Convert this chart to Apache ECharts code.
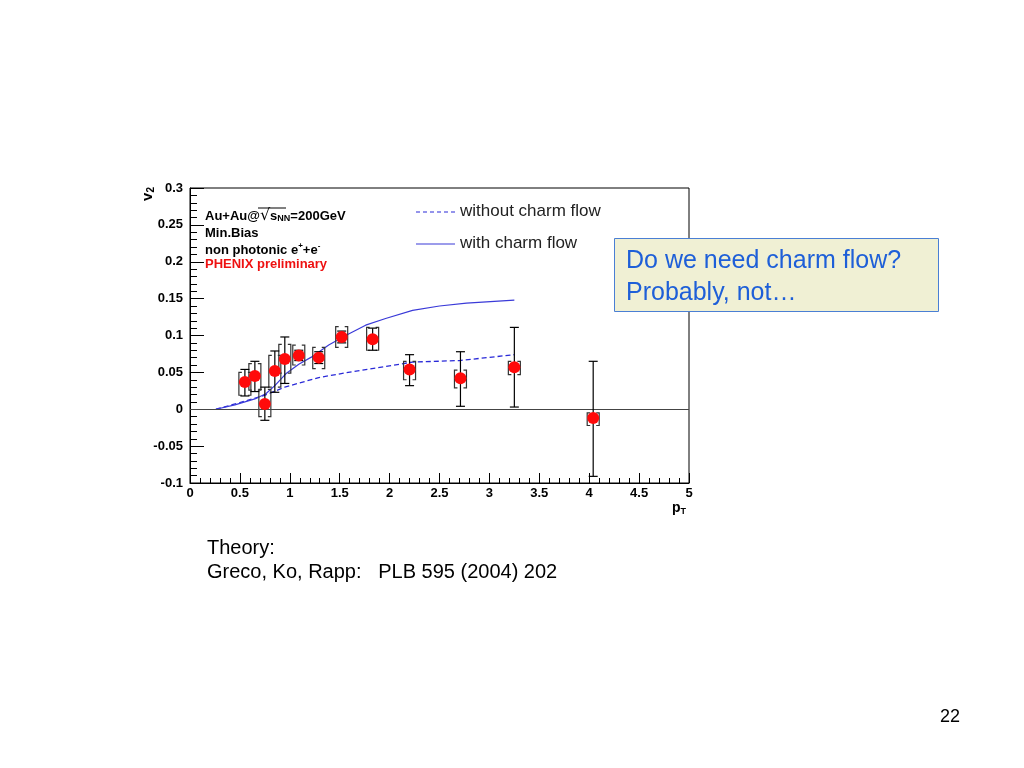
<!DOCTYPE html>
<html>
<head>
<meta charset="utf-8">
<script src="https://cdn.jsdelivr.net/npm/echarts@6/dist/echarts.min.js"></script>
<style>
html,body{margin:0;padding:0;background:#fff;}
#chart{width:1024px;height:768px;}
</style>
</head>
<body>
<div id="chart"></div>
<script>
// ---- data ----
var pT      = [0.55, 0.65, 0.75, 0.85, 0.95, 1.09, 1.29, 1.52, 1.83, 2.20, 2.71, 3.25, 4.04];
var v2      = [0.037, 0.045, 0.007, 0.052, 0.068, 0.073, 0.070, 0.098, 0.095, 0.054, 0.042, 0.057, -0.012];
var statLow = [0.018, 0.024, -0.015, 0.023, 0.035, 0.066, 0.062, 0.090, 0.080, 0.032, 0.004, 0.003, -0.091];
var statHigh= [0.054, 0.065, 0.030, 0.079, 0.098, 0.080, 0.078, 0.106, 0.110, 0.074, 0.078, 0.111, 0.065];
var sysLow  = [0.019, 0.026, -0.010, 0.030, 0.049, 0.060, 0.055, 0.084, 0.080, 0.040, 0.029, 0.047, -0.022];
var sysHigh = [0.050, 0.062, 0.027, 0.073, 0.088, 0.087, 0.084, 0.112, 0.111, 0.065, 0.053, 0.065, -0.005];

var withoutCharmX = [0.26, 0.50, 0.75, 0.95, 1.29, 1.63, 1.96, 2.23, 2.70, 3.25];
var withoutCharmY = [0.000, 0.009, 0.019, 0.030, 0.043, 0.051, 0.058, 0.064, 0.066, 0.074];
var withCharmX = [0.26, 0.45, 0.65, 0.76, 0.85, 0.96, 1.09, 1.22, 1.39, 1.56, 1.76, 1.96, 2.23, 2.50, 2.77, 3.25];
var withCharmY = [0.000, 0.006, 0.014, 0.021, 0.032, 0.048, 0.061, 0.071, 0.087, 0.100, 0.114, 0.123, 0.134, 0.140, 0.144, 0.148];

var xTicks = {min: 0, max: 5, interval: 0.5};
var yTicks = {min: -0.1, max: 0.3, interval: 0.05};

// ---- build ----
function zip(a, b) { return a.map(function (v, i) { return [v, b[i]]; }); }
var points = zip(pT, v2);
var statData = pT.map(function (x, i) { return [x, statLow[i], statHigh[i]]; });
var sysData = pT.map(function (x, i) { return [x, sysLow[i], sysHigh[i]]; });

var chart = echarts.init(document.getElementById('chart'), null, {renderer: 'canvas'});
var axisFont = {fontFamily: 'Liberation Sans, Arial, sans-serif', fontWeight: 'bold', fontSize: 13, color: '#000'};

var option = {
  animation: false,
  backgroundColor: '#ffffff',
  grid: {left: 190, top: 188, width: 499, height: 295, show: true, borderColor: '#000', borderWidth: 1, backgroundColor: 'transparent'},
  xAxis: {
    type: 'value', min: xTicks.min, max: xTicks.max, interval: xTicks.interval,
    axisLine: {onZero: false, lineStyle: {color: '#000', width: 1}},
    axisTick: {inside: true, length: 10, lineStyle: {color: '#000'}},
    minorTick: {show: true, splitNumber: 5, length: 5, lineStyle: {color: '#000'}},
    splitLine: {show: false},
    axisLabel: Object.assign({margin: 4, formatter: function (v) { return String(+v.toFixed(2)); }}, axisFont)
  },
  yAxis: {
    type: 'value', min: yTicks.min, max: yTicks.max, interval: yTicks.interval,
    axisLine: {onZero: false, lineStyle: {color: '#000', width: 1}},
    axisTick: {inside: true, length: 14, lineStyle: {color: '#000'}},
    minorTick: {show: true, splitNumber: 5, length: 7, lineStyle: {color: '#000'}},
    splitLine: {show: false},
    axisLabel: Object.assign({margin: 7, formatter: function (v) { return String(+v.toFixed(2)); }}, axisFont)
  },
  series: [
    {
      type: 'line', data: zip(withoutCharmX, withoutCharmY), showSymbol: false, symbol: 'none',
      lineStyle: {color: '#2a2ad8', width: 1.3, type: [5, 3]}, z: 3,
      markLine: {silent: true, symbol: 'none', label: {show: false},
        lineStyle: {color: '#444', width: 1, type: 'solid'}, data: [{yAxis: 0}]}
    },
    {
      type: 'line', data: zip(withCharmX, withCharmY), showSymbol: false, symbol: 'none',
      lineStyle: {color: '#3a3ad8', width: 1.2}, z: 3
    },
    {
      type: 'custom', data: sysData, z: 4,
      renderItem: function (params, api) {
        var x = api.value(0);
        var lo = api.coord([x, api.value(1)]);
        var hi = api.coord([x, api.value(2)]);
        var hw = 6, s = 3;
        var st = {stroke: '#333', lineWidth: 1.2, fill: null};
        return {type: 'group', children: [
          {type: 'polyline', shape: {points: [[lo[0] - hw + s, hi[1]], [lo[0] - hw, hi[1]], [lo[0] - hw, lo[1]], [lo[0] - hw + s, lo[1]]]}, style: st},
          {type: 'polyline', shape: {points: [[lo[0] + hw - s, hi[1]], [lo[0] + hw, hi[1]], [lo[0] + hw, lo[1]], [lo[0] + hw - s, lo[1]]]}, style: st}
        ]};
      }
    },
    {
      type: 'custom', data: statData, z: 5,
      renderItem: function (params, api) {
        var x = api.value(0);
        var lo = api.coord([x, api.value(1)]);
        var hi = api.coord([x, api.value(2)]);
        var cw = 4.5;
        var st = {stroke: '#000', lineWidth: 1.2};
        return {type: 'group', children: [
          {type: 'line', shape: {x1: lo[0], y1: lo[1], x2: hi[0], y2: hi[1]}, style: st},
          {type: 'line', shape: {x1: lo[0] - cw, y1: lo[1], x2: lo[0] + cw, y2: lo[1]}, style: st},
          {type: 'line', shape: {x1: hi[0] - cw, y1: hi[1], x2: hi[0] + cw, y2: hi[1]}, style: st}
        ]};
      }
    },
    {
      type: 'scatter', data: points, symbol: 'circle', symbolSize: 12, z: 6,
      itemStyle: {color: '#ff0a0a', opacity: 1}
    }
  ],
  graphic: [
    // axis titles
    {type: 'text', left: 140, top: 187, rotation: Math.PI / 2, originX: 0, originY: 0,
      style: {text: '{v|v}{s|2}', rich: {v: {font: 'bold 15px Liberation Sans'}, s: {font: 'bold 10px Liberation Sans', padding: [8, 0, 0, 0]}}, fill: '#000'}},
    {type: 'text', left: 672, top: 501,
      style: {text: '{p|p}{s|T}', rich: {p: {font: 'bold 14px Liberation Sans'}, s: {font: 'bold 9px Liberation Sans', padding: [8, 0, 0, 0]}}, fill: '#000'}},
    // in-plot labels
    {type: 'text', left: 205, top: 208,
      style: {text: '{a|Au+Au@}{r|√}{a|s}{b|NN}{a|=200GeV}', rich: {
        a: {font: 'bold 13px Liberation Sans', fill: '#000'},
        r: {font: '16px DejaVu Sans', fill: '#000'},
        b: {font: 'bold 9px Liberation Sans', fill: '#000', padding: [6, 0, 0, 0]}}}},
    {type: 'line', shape: {x1: 258, y1: 208, x2: 286, y2: 208}, style: {stroke: '#000', lineWidth: 1}},
    {type: 'text', left: 205, top: 227, style: {text: 'Min.Bias', font: 'bold 13px Liberation Sans', fill: '#000'}},
    {type: 'text', left: 205, top: 242,
      style: {text: '{a|non photonic e}{u|+}{a|+e}{u|-}', rich: {
        a: {font: 'bold 13px Liberation Sans', fill: '#000'},
        u: {font: 'bold 8px Liberation Sans', fill: '#000', padding: [0, 0, 8, 0]}}}},
    {type: 'text', left: 205, top: 258, style: {text: 'PHENIX preliminary', font: 'bold 13px Liberation Sans', fill: '#ee1111'}},
    // legend
    {type: 'line', shape: {x1: 416, y1: 212, x2: 455, y2: 212}, style: {stroke: '#2a2ad8', lineWidth: 1.2, lineDash: [4, 3]}},
    {type: 'text', left: 460, top: 203, style: {text: 'without charm flow', font: '17px Liberation Sans', fill: '#222'}},
    {type: 'line', shape: {x1: 416, y1: 244, x2: 455, y2: 244}, style: {stroke: '#3a3ad8', lineWidth: 1.2}},
    {type: 'text', left: 460, top: 235, style: {text: 'with charm flow', font: '17px Liberation Sans', fill: '#222'}},
    // annotation box
    {type: 'rect', shape: {x: 614.5, y: 238.5, width: 324, height: 73}, style: {fill: '#f0f0d4', stroke: '#4a7fd4', lineWidth: 1}, z: 10},
    {type: 'text', left: 626, top: 245, z: 11, style: {text: 'Do we need charm flow?\nProbably, not…', font: '25px Liberation Sans', lineHeight: 32, fill: '#1e5fd8'}},
    // slide texts
    {type: 'text', left: 207, top: 538, style: {text: 'Theory:', font: '20px Liberation Sans', fill: '#000'}},
    {type: 'text', left: 207, top: 562, style: {text: 'Greco, Ko, Rapp:   PLB 595 (2004) 202', font: '20px Liberation Sans', fill: '#000'}},
    {type: 'text', left: 940, top: 708, style: {text: '22', font: '18px Liberation Sans', fill: '#000'}}
  ]
};
chart.setOption(option);
</script>
</body>
</html>
